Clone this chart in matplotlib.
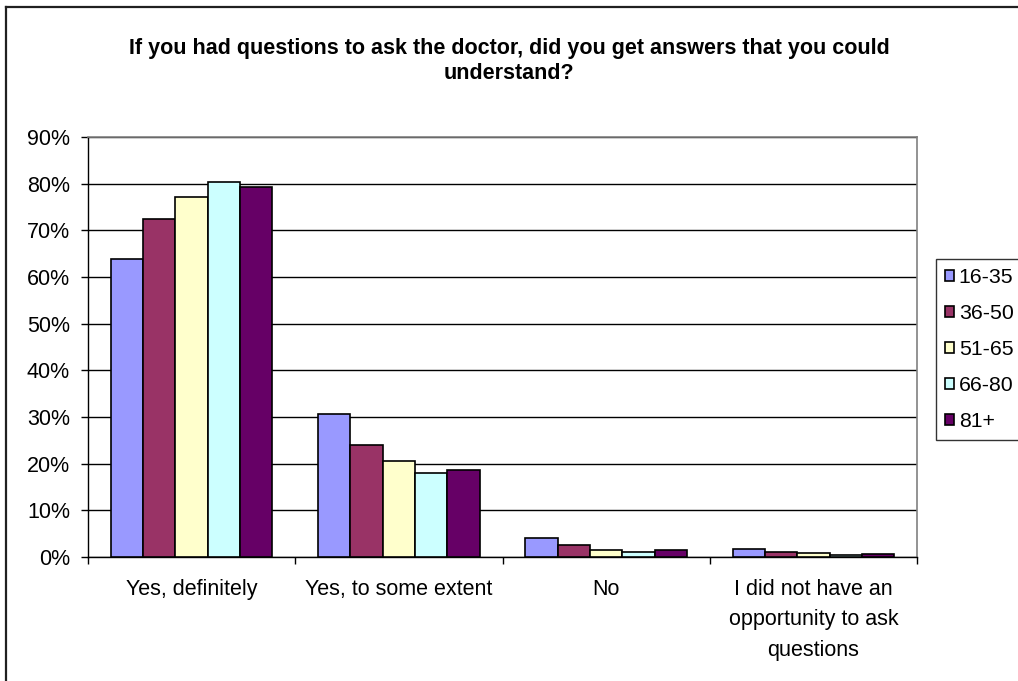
import numpy as np
import matplotlib
matplotlib.use('Agg')
import matplotlib.pyplot as plt
from matplotlib.lines import Line2D
from matplotlib.ticker import FuncFormatter

plt.rcParams['font.family'] = ['Liberation Sans', 'DejaVu Sans']

categories = ['Yes, definitely', 'Yes, to some extent', 'No',
              'I did not have an\nopportunity to ask\nquestions']
age_groups = ['16-35', '36-50', '51-65', '66-80', '81+']
colors = ['#9999FF', '#993366', '#FFFFCC', '#CCFFFF', '#660066']

# share of respondents per answer, one list per age group
v_16_35 = [0.638, 0.307, 0.041, 0.018]
v_36_50 = [0.724, 0.241, 0.025, 0.011]
v_51_65 = [0.771, 0.205, 0.014, 0.008]
v_66_80 = [0.804, 0.179, 0.011, 0.004]
v_81 = [0.793, 0.187, 0.014, 0.007]
series = [v_16_35, v_36_50, v_51_65, v_66_80, v_81]

yticks = [0, 0.1, 0.2, 0.3, 0.4, 0.5, 0.6, 0.7, 0.8, 0.9]

fig = plt.figure(figsize=(10.18, 6.81), dpi=100)
ax = fig.add_axes([88/1018, 124/681, (917-88)/1018, (557-137)/681])

x = np.arange(len(categories))
w = 0.156
for i, (vals, c, lab) in enumerate(zip(series, colors, age_groups)):
    ax.bar(x + (i - 2) * w, vals, w, color=c, edgecolor='black',
           linewidth=1.2, label=lab, zorder=3)

ax.set_xlim(-0.5, 3.5)
ax.set_ylim(0, 0.9)
ax.set_yticks(yticks)
ax.yaxis.set_major_formatter(FuncFormatter(lambda v, p: '%d%%' % round(v * 100)))
ax.yaxis.grid(True, color='black', linewidth=1)
ax.set_axisbelow(True)

ax.set_xticks(x)
ax.set_xticklabels(categories, fontsize=15.5, linespacing=1.62, va='top')
ax.set_xticks(np.arange(-0.5, 4.0, 1.0), minor=True)
ax.tick_params(axis='x', which='major', length=0, pad=15.5)
ax.tick_params(axis='x', which='minor', length=5, width=1, direction='out')
ax.tick_params(axis='y', length=5, width=1, direction='out', labelsize=15.5, pad=8)

for s in ['top', 'right']:
    ax.spines[s].set_color('#808080')
    ax.spines[s].set_linewidth(1.2)
for s in ['left', 'bottom']:
    ax.spines[s].set_color('black')
    ax.spines[s].set_linewidth(1)

fig.text(509/1018, 1 - 61/681, 'If you had questions to ask the doctor, did you get answers that you could\nunderstand?',
         ha='center', va='center', fontsize=15.5, fontweight='bold', linespacing=1.3)

leg = fig.legend(loc='upper left', bbox_to_anchor=(936/1018, 1 - 259/681),
                 frameon=True, fancybox=False, edgecolor='black', fontsize=15.3,
                 handlelength=0.45, handleheight=0.45, handletextpad=0.2,
                 labelspacing=0.8, borderpad=0.42, borderaxespad=0)
leg.get_frame().set_linewidth(1)

# outer chart border (only top and left visible in the crop)
fig.add_artist(Line2D([6/1018, 1], [1 - 7/681, 1 - 7/681], color='#202020', linewidth=1.6))
fig.add_artist(Line2D([6/1018, 6/1018], [0, 1 - 7/681], color='#202020', linewidth=1.6))

fig.savefig('out.png', dpi=100)
